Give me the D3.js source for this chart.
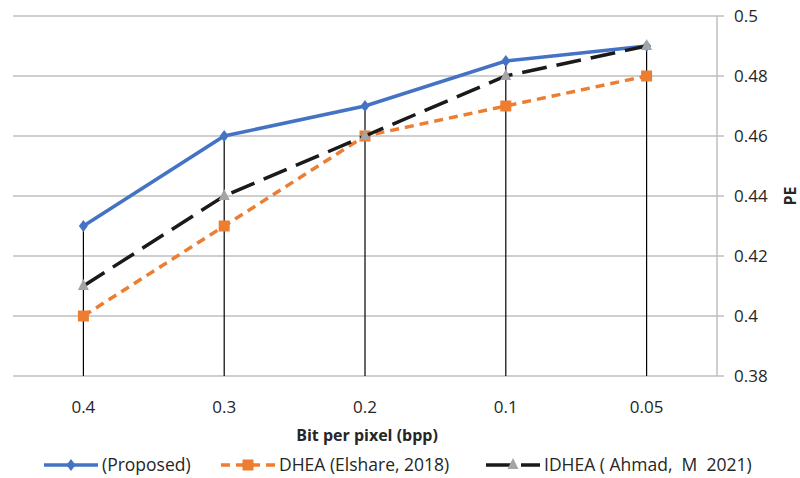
<!DOCTYPE html>
<html><head><meta charset="utf-8">
<script src="https://cdn.jsdelivr.net/npm/d3@7"></script>
<style>body{margin:0;background:#fff}svg{display:block}text{font-family:"Open Sans","Noto Sans",sans-serif;fill:#262626;white-space:pre}</style>
</head><body><svg id="c" width="800" height="478"></svg>
<script>
const categories = ["0.4","0.3","0.2","0.1","0.05"];
const proposed = [0.43,0.46,0.47,0.485,0.49];
const dhea = [0.40,0.43,0.46,0.47,0.48];
const idhea = [0.41,0.44,0.46,0.48,0.49];
const yTicks = [0.38,0.4,0.42,0.44,0.46,0.48,0.5];
const seriesNames = ["(Proposed)","DHEA (Elshare, 2018)","IDHEA ( Ahmad,  M  2021)"];

const svg = d3.select("#c");
const L=13, R=717, T=16, B=376;
const x = d3.scaleBand().domain(categories).range([L,R]);
const y = d3.scaleLinear().domain([0.38,0.5]).range([B,T]);
const cx = c => x(c)+x.bandwidth()/2;

svg.append("g").selectAll("line").data(yTicks).join("line")
  .attr("x1",L).attr("x2",R+7).attr("y1",d=>y(d)).attr("y2",d=>y(d))
  .attr("stroke","#bfbfbf").attr("stroke-width",1.5);
svg.append("line").attr("x1",R).attr("x2",R).attr("y1",T).attr("y2",B)
  .attr("stroke","#bfbfbf").attr("stroke-width",1.5);
svg.append("g").selectAll("text").data(yTicks).join("text")
  .attr("x",734).attr("y",d=>y(d)).attr("dy","0.35em")
  .attr("font-size",17).text(d=>String(+d.toFixed(2)));
svg.append("g").selectAll("text").data(categories).join("text")
  .attr("x",d=>cx(d)).attr("y",407).attr("dy","0.35em").attr("text-anchor","middle")
  .attr("font-size",17).text(d=>d);

const maxv = categories.map((c,i)=>Math.max(proposed[i],dhea[i],idhea[i]));
svg.append("g").selectAll("line").data(categories).join("line")
  .attr("x1",d=>cx(d)).attr("x2",d=>cx(d)).attr("y1",B).attr("y2",(d,i)=>y(maxv[i]))
  .attr("stroke","#000").attr("stroke-width",1.2);

const series = [
  {name:seriesNames[0], vals:proposed, color:"#4472c4", dash:null, marker:"diamond", mcolor:"#4472c4"},
  {name:seriesNames[1], vals:dhea, color:"#ed7d31", dash:"9,6", marker:"square", mcolor:"#ed7d31"},
  {name:seriesNames[2], vals:idhea, color:"#1a1a1a", dash:"25,10", marker:"triangle", mcolor:"#a5a5a5"}
];
const line = d3.line().x((d,i)=>cx(categories[i])).y(d=>y(d));
function marker(g,s,px,py){
  if(s.marker==="diamond"){
    g.append("path").attr("d",`M${px},${py-6}L${px+4.5},${py}L${px},${py+6}L${px-4.5},${py}Z`).attr("fill",s.mcolor);
  } else if(s.marker==="square"){
    g.append("rect").attr("x",px-5.5).attr("y",py-5.5).attr("width",11).attr("height",11).attr("fill",s.mcolor);
  } else {
    g.append("path").attr("d",`M${px},${py-7}L${px+5.5},${py+4}L${px-5.5},${py+4}Z`).attr("fill",s.mcolor);
  }
}
series.forEach(s=>{
  const g = svg.append("g");
  g.append("path").attr("d",line(s.vals)).attr("fill","none").attr("stroke",s.color)
    .attr("stroke-width",3.5).attr("stroke-dasharray",s.dash);
  s.vals.forEach((v,i)=>marker(g,s,cx(categories[i]),y(v)));
});

svg.append("text").attr("x",367).attr("y",435).attr("dy","0.35em").attr("text-anchor","middle")
  .attr("font-size",16).attr("font-weight","bold").text("Bit per pixel (bpp)");
svg.append("text").attr("transform","translate(790,196) rotate(-90)").attr("dy","0.35em")
  .attr("text-anchor","middle").attr("font-size",16).attr("font-weight","bold").text("PE");

const legX = [44,221,486];
series.forEach((s,i)=>{
  const g = svg.append("g");
  const x0 = legX[i], ly = 465;
  g.append("line").attr("x1",x0).attr("x2",x0+54).attr("y1",ly).attr("y2",ly)
    .attr("stroke",s.color).attr("stroke-width",3.5)
    .attr("stroke-dasharray", s.dash ? (i===1?"9,6":"25,10") : null);
  marker(g,s,x0+27,ly);
  g.append("text").attr("x",x0+58).attr("y",ly).attr("dy","0.35em").attr("font-size",17.5).text(s.name);
});
</script></body></html>
